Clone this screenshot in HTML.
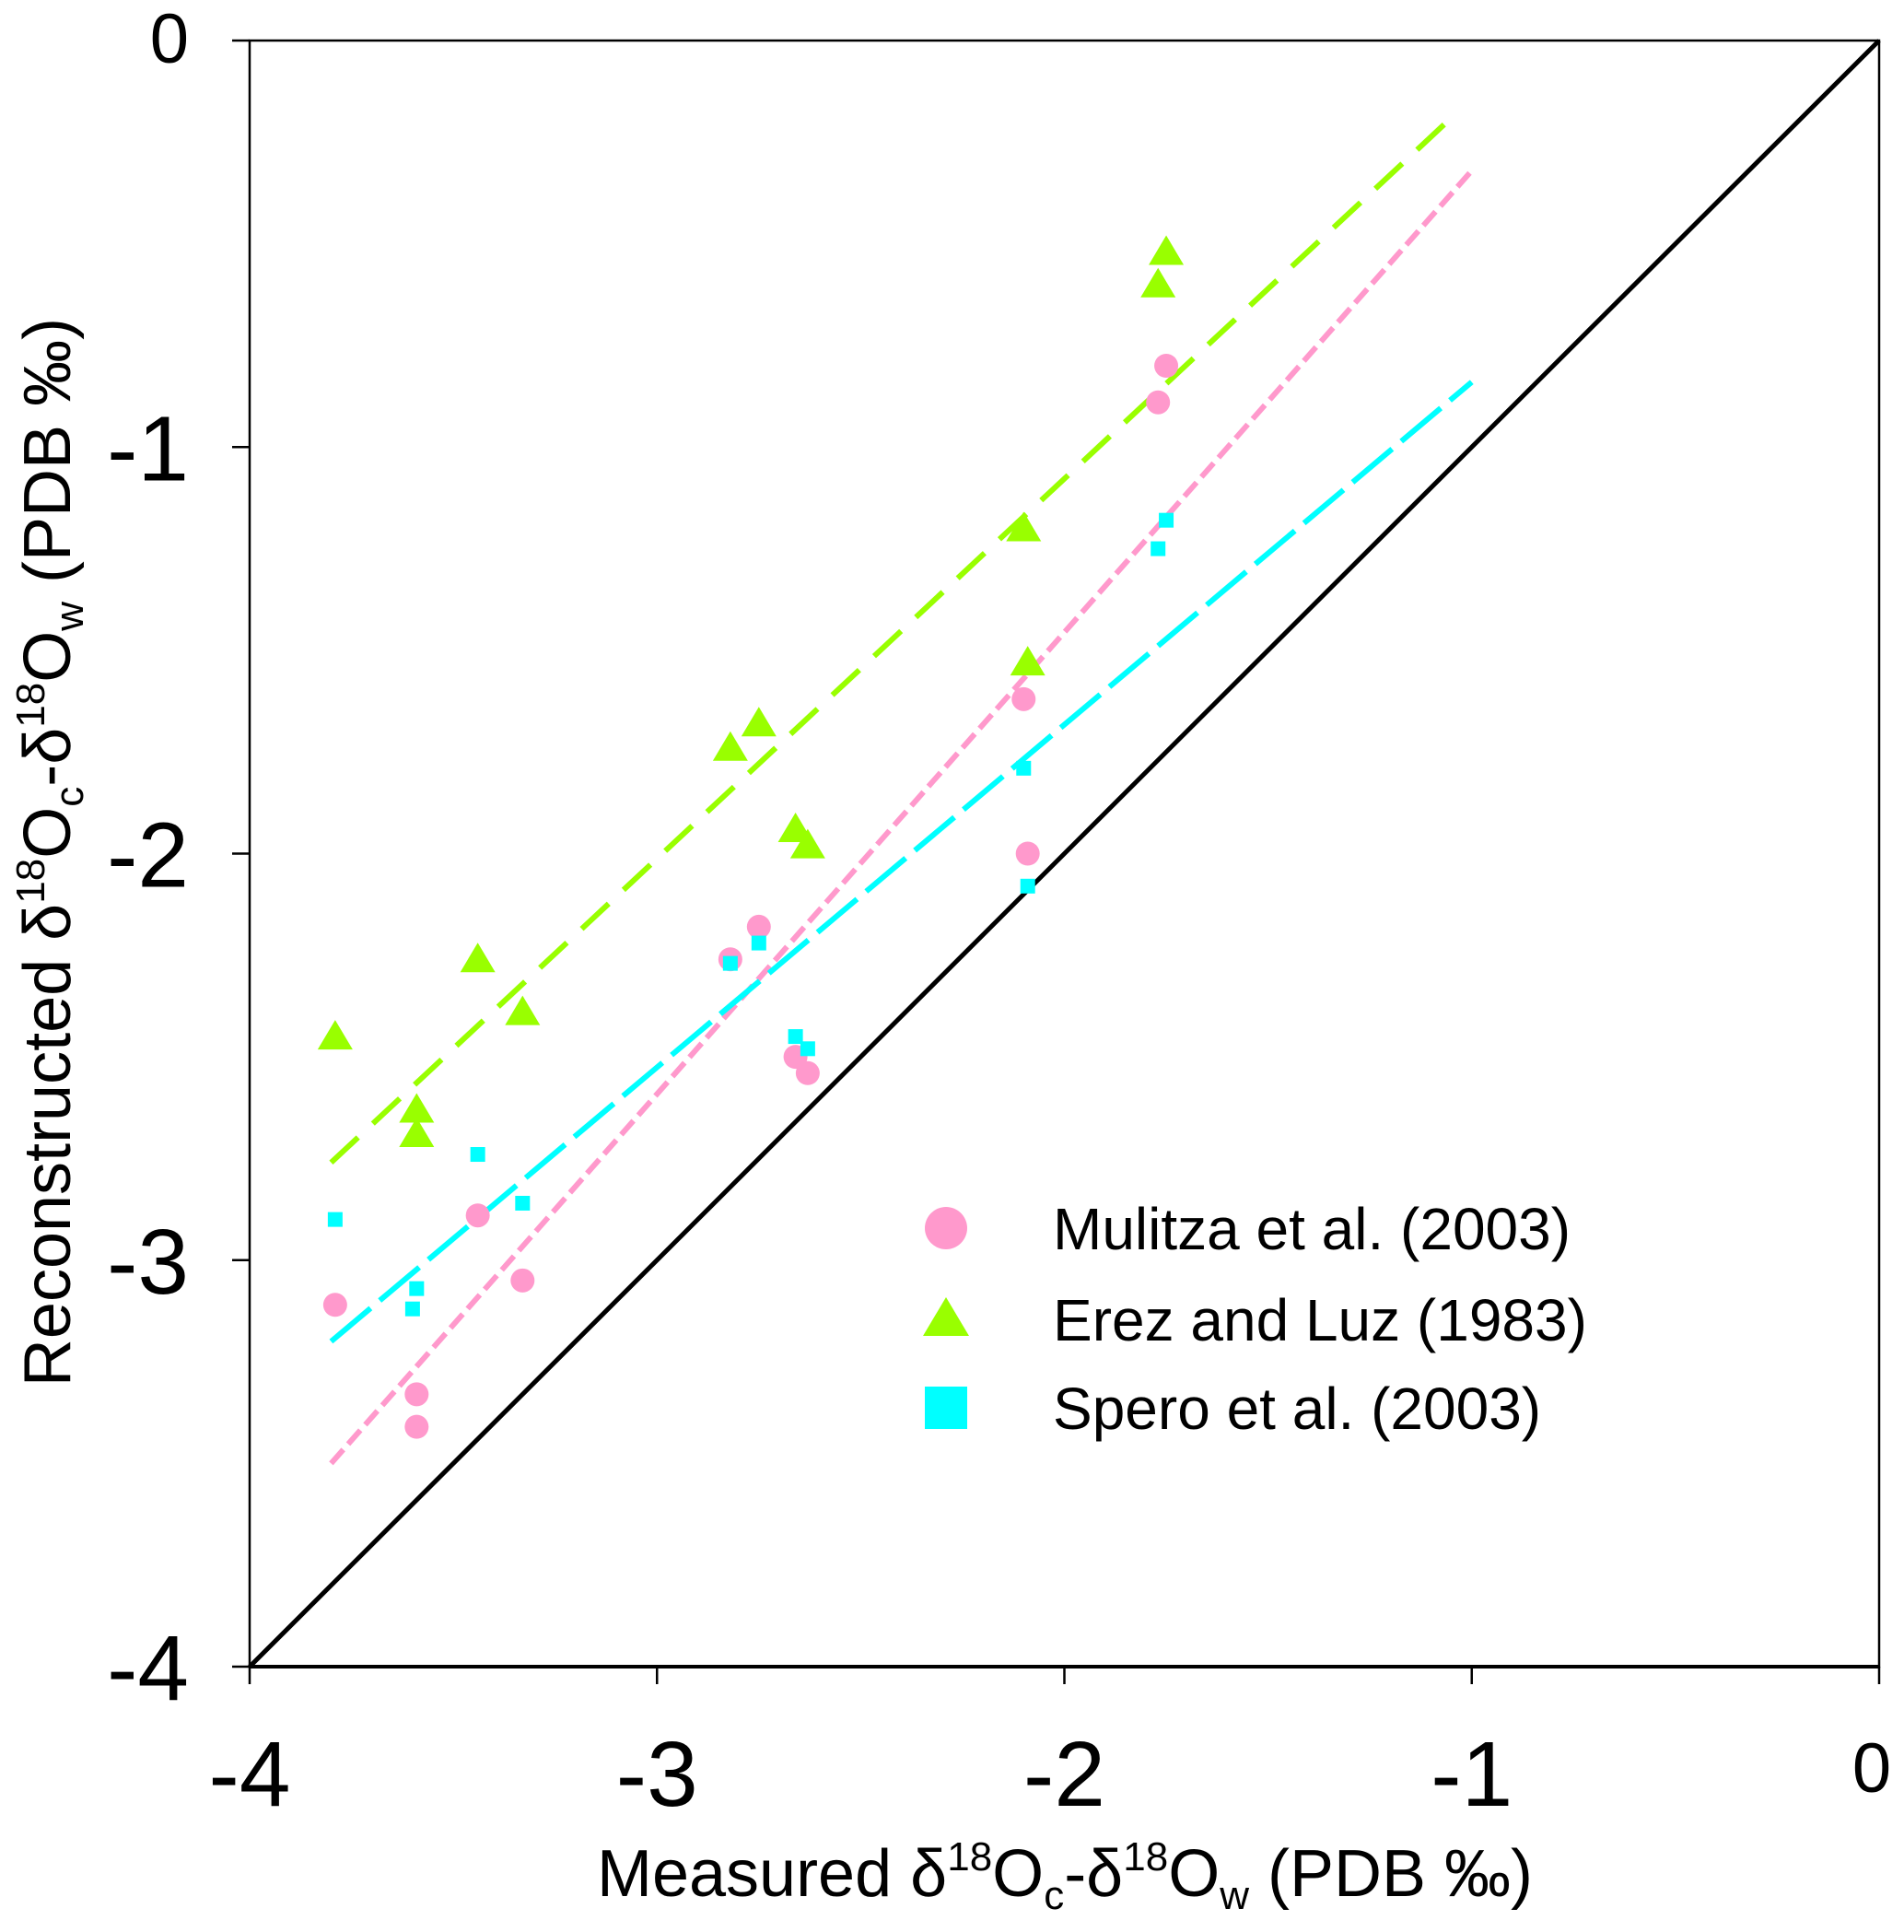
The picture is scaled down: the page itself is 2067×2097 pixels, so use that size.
<!DOCTYPE html>
<html><head><meta charset="utf-8"><style>
html,body{margin:0;padding:0;background:#fff;}
svg{display:block;font-family:"Liberation Sans",Arial,sans-serif;}
</style></head><body>
<svg id="chart" width="2067" height="2097" viewBox="0 0 2067 2097" xmlns="http://www.w3.org/2000/svg">
<g id="axes"></g>
<g id="plot"></g>
<text x="1156" y="2058" font-size="72" text-anchor="middle">Measured δ<tspan font-size="44" dy="-28">18</tspan><tspan dy="28">O</tspan><tspan font-size="44" dy="14">c</tspan><tspan dy="-14">-δ</tspan><tspan font-size="44" dy="-28">18</tspan><tspan dy="28">O</tspan><tspan font-size="44" dy="14">w</tspan><tspan dy="-14"> (PDB ‰)</tspan></text>
<text x="0" y="0" font-size="72" text-anchor="middle" transform="translate(76 925) rotate(-90)">Reconstructed δ<tspan font-size="44" dy="-28">18</tspan><tspan dy="28">O</tspan><tspan font-size="44" dy="14">c</tspan><tspan dy="-14">-δ</tspan><tspan font-size="44" dy="-28">18</tspan><tspan dy="28">O</tspan><tspan font-size="44" dy="14">w</tspan><tspan dy="-14"> (PDB ‰)</tspan></text>
<g id="legend">
<circle cx="1027" cy="1333" r="23" fill="#ff99cc"/>
<text x="1143" y="1356" font-size="64">Mulitza et al. (2003)</text>
<polygon points="1027,1408 1052,1450 1002,1450" fill="#99ff00"/>
<text x="1143" y="1455" font-size="64">Erez and Luz (1983)</text>
<rect x="1004" y="1505" width="46" height="46" fill="#00ffff"/>
<text x="1143" y="1551" font-size="64">Spero et al. (2003)</text>
</g>
</svg>
<script>
const xTicks=[-4,-3,-2,-1,0];
const yTicks=[0,-1,-2,-3,-4];
const mulX=[-3.79,-3.59,-3.59,-3.44,-3.33,-2.82,-2.75,-2.66,-2.63,-2.10,-2.09,-1.77,-1.75];
const mulY=[-3.11,-3.33,-3.41,-2.89,-3.05,-2.26,-2.18,-2.50,-2.54,-1.62,-2.00,-0.89,-0.80];
const erezX=[-3.79,-3.59,-3.59,-3.44,-3.33,-2.82,-2.75,-2.66,-2.63,-2.10,-2.09,-1.77,-1.75];
const erezY=[-2.45,-2.63,-2.69,-2.26,-2.39,-1.74,-1.68,-1.94,-1.98,-1.20,-1.53,-0.60,-0.52];
const speroX=[-3.79,-3.59,-3.60,-3.44,-3.33,-2.82,-2.75,-2.66,-2.63,-2.10,-2.09,-1.77,-1.75];
const speroY=[-2.90,-3.07,-3.12,-2.74,-2.86,-2.27,-2.22,-2.45,-2.48,-1.79,-2.08,-1.25,-1.18];
const fitErez=[[-3.80,-2.76],[-1.05,-0.19]];
const fitMul=[[-3.80,-3.50],[-1.00,-0.32]];
const fitSpero=[[-3.80,-3.20],[-1.00,-0.84]];
const oneToOne=[[-4,-4],[0,0]];
const X0=271,X1=2040,Y0=44,Y1=1809;
const sx=v=>X0+(v+4)/4*(X1-X0);
const sy=v=>Y0+(0-v)/4*(Y1-Y0);
const NS='http://www.w3.org/2000/svg';
function mk(tag,attrs,parent){const e=document.createElementNS(NS,tag);for(const k in attrs)e.setAttribute(k,attrs[k]);parent.appendChild(e);return e;}
const axes=document.getElementById('axes'),plot=document.getElementById('plot');
let e;
e=mk('rect',{x:X0,y:Y0,width:X1-X0,height:Y1-Y0,fill:'none',stroke:'#000','stroke-width':2.5},axes);


e=mk('line',{x1:X0,y1:Y1,x2:X1,y2:Y1,stroke:'#000','stroke-width':4},axes);


xTicks.forEach(t=>{
  const x=sx(t);
  let l=mk('line',{x1:x,y1:Y1,x2:x,y2:Y1+19,stroke:'#000','stroke-width':2.5},axes);
  
  
  let tx=mk('text',{x:t===0?x-8:x,y:t===0?1945:1960,'font-size':t===0?76:100,'text-anchor':'middle'},axes);
  tx.textContent=String(t);
  
  
});
yTicks.forEach(t=>{
  const y=sy(t);
  let l=mk('line',{x1:X0-19,y1:y,x2:X0,y2:y,stroke:'#000','stroke-width':2.5},axes);
  
  
  let tx=mk('text',{x:205,y:y+(t===0?24:36),'font-size':t===0?76:100,'text-anchor':'end'},axes);
  tx.textContent=String(t);
  
  
});
function line(pts,color,w,dash,name){
  const l=mk('line',{x1:sx(pts[0][0]),y1:sy(pts[0][1]),x2:sx(pts[1][0]),y2:sy(pts[1][1]),stroke:color,'stroke-width':w},plot);
  if(dash)l.setAttribute('stroke-dasharray',dash);
  
  
}
line(oneToOne,'#000',5,null,'one-to-one-line');
line(fitErez,'#99ff00',6,'40 22','erez-fit-line');
line(fitMul,'#ff99cc',6,'20 8','mulitza-fit-line');
line(fitSpero,'#00ffff',6,'56 13','spero-fit-line');
mulX.forEach((v,i)=>{
  const c=mk('circle',{cx:sx(v),cy:sy(mulY[i]),r:13,fill:'#ff99cc'},plot);
  
  
});
erezX.forEach((v,i)=>{
  const x=sx(v),y=sy(erezY[i]);
  const p=mk('polygon',{points:`${x},${y-18} ${x+19},${y+14} ${x-19},${y+14}`,fill:'#99ff00'},plot);
  
  
});
speroX.forEach((v,i)=>{
  const r=mk('rect',{x:sx(v)-8,y:sy(speroY[i])-8,width:16,height:16,fill:'#00ffff'},plot);
  
  
});
</script>
</body></html>
